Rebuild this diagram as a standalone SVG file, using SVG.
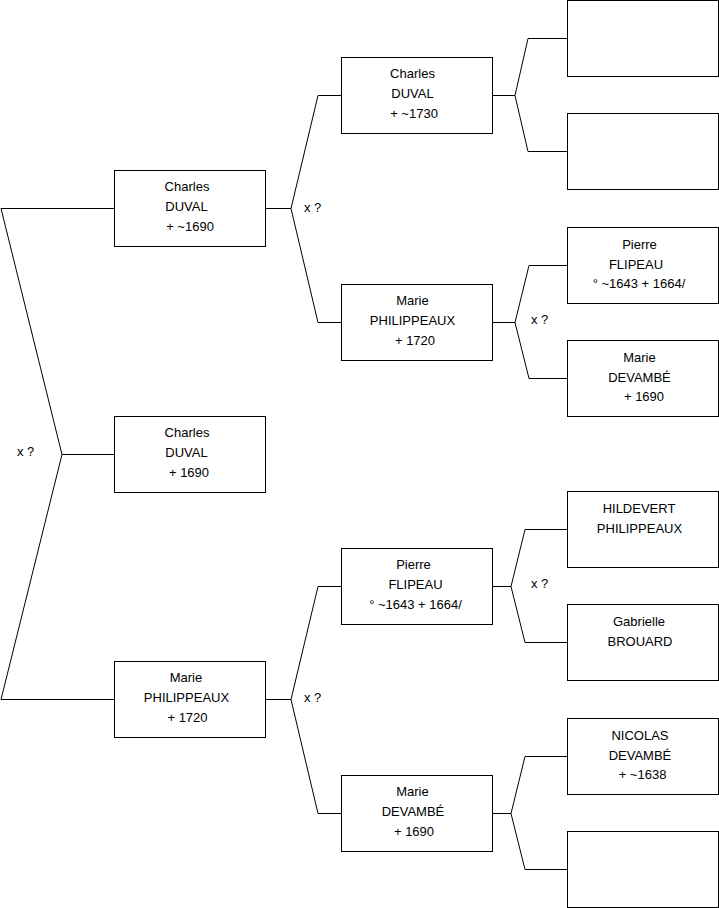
<svg xmlns="http://www.w3.org/2000/svg" width="719" height="908" viewBox="0 0 719 908">
<style>
.box{fill:#ffffff;stroke:#000000;stroke-width:1}
.ln{fill:none;stroke:#000000;stroke-width:1}
text{font-family:"Liberation Sans",Arial,sans-serif;font-size:13px;fill:#000000}
.m{text-anchor:middle}
</style>
<rect width="719" height="908" fill="#ffffff"/>
<g id="connectors">
<polyline class="ln" points="114,208.5 1,208.5 62,454.5 1,699.5 114,699.5"/>
<line class="ln" x1="62" y1="454.5" x2="114" y2="454.5"/>
<polyline class="ln" points="341,95.5 318,95.5 291,208.5 318,322.5 341,322.5"/>
<line class="ln" x1="265" y1="208.5" x2="291" y2="208.5"/>
<polyline class="ln" points="341,586.5 318,586.5 291,699.5 318,813.5 341,813.5"/>
<line class="ln" x1="265" y1="699.5" x2="291" y2="699.5"/>
<polyline class="ln" points="567,38.5 528,38.5 515,95.5 528,151.5 567,151.5"/>
<line class="ln" x1="492" y1="95.5" x2="515" y2="95.5"/>
<polyline class="ln" points="567,265.5 529,265.5 515,322.5 529,378.5 567,378.5"/>
<line class="ln" x1="492" y1="322.5" x2="515" y2="322.5"/>
<polyline class="ln" points="567,529.5 525,529.5 511,586.5 525,642.5 567,642.5"/>
<line class="ln" x1="492" y1="586.5" x2="511" y2="586.5"/>
<polyline class="ln" points="567,756.5 525,756.5 511,813.5 525,869.5 567,869.5"/>
<line class="ln" x1="492" y1="813.5" x2="511" y2="813.5"/>
<text x="17" y="456">x ?</text>
<text x="304" y="212">x ?</text>
<text x="304" y="702">x ?</text>
<text x="531" y="324">x ?</text>
<text x="531" y="588">x ?</text>
</g>
<g id="n1">
<rect class="box" x="114.5" y="170.5" width="151" height="76"/>
<text class="m" x="187" y="191">Charles</text>
<text class="m" x="186.5" y="211">DUVAL</text>
<text class="m" x="190" y="231">+ ~1690</text>
</g>
<g id="n2">
<rect class="box" x="114.5" y="416.5" width="151" height="76"/>
<text class="m" x="187" y="437">Charles</text>
<text class="m" x="186.5" y="457">DUVAL</text>
<text class="m" x="189" y="477">+ 1690</text>
</g>
<g id="n3">
<rect class="box" x="114.5" y="661.5" width="151" height="76"/>
<text class="m" x="186" y="682">Marie</text>
<text class="m" x="186.5" y="702">PHILIPPEAUX</text>
<text class="m" x="187.5" y="722">+ 1720</text>
</g>
<g id="n4">
<rect class="box" x="341.5" y="57.5" width="151" height="76"/>
<text class="m" x="412.5" y="78">Charles</text>
<text class="m" x="412.5" y="98">DUVAL</text>
<text class="m" x="414" y="118">+ ~1730</text>
</g>
<g id="n5">
<rect class="box" x="341.5" y="284.5" width="151" height="76"/>
<text class="m" x="412.5" y="305">Marie</text>
<text class="m" x="412.5" y="325">PHILIPPEAUX</text>
<text class="m" x="415" y="345">+ 1720</text>
</g>
<g id="n6">
<rect class="box" x="341.5" y="548.5" width="151" height="76"/>
<text class="m" x="413.5" y="569">Pierre</text>
<text class="m" x="415.5" y="589">FLIPEAU</text>
<text class="m" x="415.5" y="609">° ~1643 + 1664/</text>
</g>
<g id="n7">
<rect class="box" x="341.5" y="775.5" width="151" height="76"/>
<text class="m" x="412.5" y="796">Marie</text>
<text class="m" x="413" y="816">DEVAMBÉ</text>
<text class="m" x="414" y="836">+ 1690</text>
</g>
<g id="n8">
<rect class="box" x="567.5" y="0.5" width="151" height="76"/>
</g>
<g id="n9">
<rect class="box" x="567.5" y="113.5" width="151" height="76"/>
</g>
<g id="n10">
<rect class="box" x="567.5" y="227.5" width="151" height="76"/>
<text class="m" x="639.5" y="249">Pierre</text>
<text class="m" x="636" y="268.5">FLIPEAU</text>
<text class="m" x="639" y="288">° ~1643 + 1664/</text>
</g>
<g id="n11">
<rect class="box" x="567.5" y="340.5" width="151" height="76"/>
<text class="m" x="639.5" y="362">Marie</text>
<text class="m" x="639.5" y="381.5">DEVAMBÉ</text>
<text class="m" x="644" y="401">+ 1690</text>
</g>
<g id="n12">
<rect class="box" x="567.5" y="491.5" width="151" height="76"/>
<text class="m" x="639" y="513">HILDEVERT</text>
<text class="m" x="639.5" y="533">PHILIPPEAUX</text>
</g>
<g id="n13">
<rect class="box" x="567.5" y="604.5" width="151" height="76"/>
<text class="m" x="639" y="626">Gabrielle</text>
<text class="m" x="640" y="646">BROUARD</text>
</g>
<g id="n14">
<rect class="box" x="567.5" y="718.5" width="151" height="76"/>
<text class="m" x="640" y="740">NICOLAS</text>
<text class="m" x="640" y="759.5">DEVAMBÉ</text>
<text class="m" x="642.5" y="779">+ ~1638</text>
</g>
<g id="n15">
<rect class="box" x="567.5" y="831.5" width="151" height="76"/>
</g>
</svg>
